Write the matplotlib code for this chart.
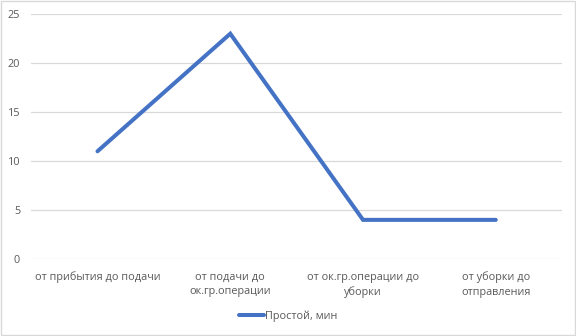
import matplotlib
matplotlib.use("Agg")
import matplotlib.pyplot as plt
from matplotlib.patches import Rectangle

categories = ["от прибытия до подачи", "от подачи до\nок.гр.операции",
              "от ок.гр.операции до\nуборки", "от уборки до\nотправления"]
downtime = [11, 23, 4, 4]
yticks = [0, 5, 10, 15, 20, 25]

plt.rcParams['font.family'] = ['Open Sans', 'DejaVu Sans']
text_color = '#595959'

fig = plt.figure(figsize=(5.76, 3.36), dpi=100)
ax = fig.add_axes([0.054, 0.229, 0.922, 0.729])

x = range(len(categories))
ax.plot(x, downtime, color='#4472C4', linewidth=2.9, solid_joinstyle='miter',
        solid_capstyle='round', label='Простой, мин')

ax.set_xlim(-0.5, len(categories) - 0.5)
ax.set_ylim(0, 25)
ax.set_yticks(yticks)
ax.set_xticks(list(x))
ax.set_xticklabels(categories, fontsize=7.8, color=text_color, linespacing=1.4)
ax.tick_params(axis='y', labelsize=7.8, labelcolor=text_color, length=0, pad=8)
ax.tick_params(axis='x', length=0, pad=9)
ax.grid(axis='y', color='#D9D9D9', linewidth=0.9)
ax.set_axisbelow(True)
for s in ax.spines.values():
    s.set_visible(False)

fig.legend(loc='center', bbox_to_anchor=(0.5, 0.06), frameon=False,
           fontsize=7.8, labelcolor=text_color, handlelength=2.3, handletextpad=0.1)

fig.patches.append(Rectangle((0.001, 0.002), 0.997, 0.995, transform=fig.transFigure,
                             fill=False, edgecolor='#D9D9D9', linewidth=1))

fig.savefig("out.png", dpi=100)
